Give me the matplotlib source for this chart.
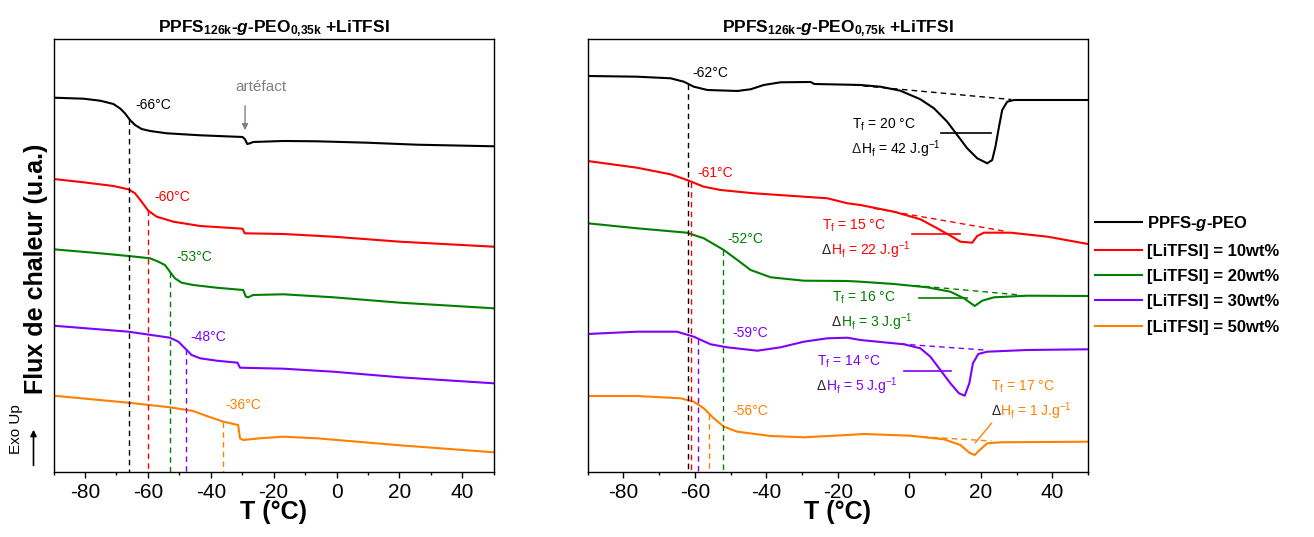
import numpy as np
import matplotlib
matplotlib.use("Agg")
from matplotlib import pyplot as plt
from matplotlib.ticker import MultipleLocator

plt.rcParams['font.family'] = ['Liberation Sans', 'DejaVu Sans']
plt.rcParams['mathtext.fontset'] = 'custom'
plt.rcParams['mathtext.rm'] = 'Liberation Sans'
plt.rcParams['mathtext.it'] = 'Liberation Sans:italic'
plt.rcParams['mathtext.bf'] = 'Liberation Sans:bold'
plt.rcParams['mathtext.bfit'] = 'Liberation Sans:italic:bold'
plt.rcParams['axes.unicode_minus'] = False

# ---- data (T in °C, heat flow in arbitrary units) ----
colors = ['black', '#ff0000', '#008000', '#8000ff', '#ff8000']
labels = [r'PPFS-$\mathbfit{g}$-PEO', '[LiTFSI] = 10wt%', '[LiTFSI] = 20wt%',
          '[LiTFSI] = 30wt%', '[LiTFSI] = 50wt%']

# left panel: PPFS126k-g-PEO0,35k
l_T_0 = [-90, -80.5, -75.2, -71, -68.9, -67.3, -65.7, -64.1, -62, -59.3, -54, -43.4, -29.9, -29.1, -28.4, -27.5, -26.5, -16.9, -6.3, 9.6, 25.5, 50]
l_y_0 = [372.3, 371.3, 369.3, 366, 361.7, 356.7, 350, 345, 341, 339, 336.7, 334.7, 333, 330.7, 326, 326.7, 328, 329, 328.7, 327.3, 325.3, 323.7]
l_T_10 = [-90, -80.5, -71, -66.2, -64.1, -62, -59.9, -57.2, -51.9, -43.4, -29.9, -29.2, -16.9, -1, 20.2, 50]
l_y_10 = [291, 287.7, 284, 280.7, 276.7, 268.3, 259.3, 253.3, 248.3, 244, 241.3, 236.7, 236, 233.3, 228.3, 223.3]
l_T_20 = [-90, -75.2, -66.2, -59.3, -56.7, -54.6, -53, -51.4, -49.3, -45.6, -38.2, -29.7, -28.8, -28.1, -26.5, -16.9, -1, 20.2, 50]
l_y_20 = [220.7, 216.7, 214, 211.7, 208.3, 205, 198.3, 191.7, 187.3, 185, 182.3, 180, 173.3, 172.7, 175, 175.7, 172.7, 167.3, 161.7]
l_T_30 = [-90, -66.2, -53, -50.3, -48.2, -46.1, -43.4, -38.1, -31.5, -30.7, -16.9, -1, 20.2, 50]
l_y_30 = [144.3, 138.3, 132.3, 128.3, 121.7, 115, 111.7, 109.3, 107.3, 102.3, 101.3, 98.3, 92.7, 86.7]
l_T_50 = [-90, -66.2, -53, -45.6, -41.3, -36, -31.3, -30.7, -29.7, -24.4, -16.9, -6.3, 20.2, 50]
l_y_50 = [74.3, 67.3, 62.7, 59, 54, 48.3, 45, 31.7, 30, 31.7, 33.3, 31.7, 24.7, 17.7]
l_tg = [-66, -60, -53, -48, -36]

# right panel: PPFS126k-g-PEO0,75k
r_T_0 = [-90, -76.2, -66.8, -63.1, -60.3, -56.5, -48.1, -44.4, -40.7, -36, -27.6, -26.6, -17.3, -13.7, -8.1, -2.5, 3.1, 6.9, 10.6, 13.4, 16.2, 19.0, 21.8, 23.2, 24.1, 25.1, 26.0, 27.4, 29.3, 50]
r_y_0 = [394, 393.3, 391.7, 388.3, 383.3, 380, 379, 380.7, 385, 387.7, 388, 386, 385.3, 385, 383.3, 379.3, 370.7, 361.7, 348.3, 335, 321.7, 311.7, 306.7, 310, 323.3, 343.3, 360, 368.3, 370, 370]
r_T_10 = [-90, -76.2, -66.8, -62.2, -57.5, -52.8, -43.5, -29.5, -22.9, -17.3, -13.7, -4.3, 3.1, 7.8, 11.5, 14.3, 17.6, 19.0, 20.9, 28.4, 38.7, 50]
r_y_10 = [309, 302.3, 295.7, 290, 283.3, 280, 276.7, 273.3, 271.7, 266.7, 265, 258.3, 250.7, 241.7, 234.3, 228.3, 227.3, 234, 237.3, 237.3, 233.3, 226]
r_T_20 = [-90, -76.2, -62.2, -57.5, -51.9, -48.1, -44.4, -38.8, -29.5, -17.3, -13.7, -4.3, 5.0, 11.5, 15.3, 18.3, 20.4, 23.7, 33, 50]
r_y_20 = [246.7, 241.7, 237.3, 231.7, 220, 210, 200, 192.7, 189.3, 189, 188.3, 186, 182.7, 178.3, 171.7, 164, 169.3, 172.7, 174.3, 174]
r_T_30 = [-90, -76.2, -65, -60.3, -55.6, -51, -42.5, -36, -29.5, -22.9, -17.3, -13.7, -1.5, 3.1, 5.9, 8.7, 11.5, 13.9, 15.5, 16.8, 17.8, 19.3, 21.8, 33, 50]
r_y_30 = [136, 138.3, 138.3, 133.3, 125.7, 122.7, 119.3, 122.7, 128.3, 131.7, 132.3, 130, 125.7, 121.7, 113.3, 100, 86.7, 76.7, 74.3, 86.7, 106.7, 116, 118.3, 120, 120.7]
r_T_50 = [-90, -76.2, -64, -60.3, -57.5, -54.7, -51.9, -48.1, -38.8, -29.5, -17.3, -12.8, 0.3, 9.7, 14.3, 16.8, 18.3, 19.7, 21.8, 25.5, 50]
r_y_50 = [74, 74, 71.7, 68.3, 61.7, 51.7, 43.3, 38.3, 34, 32.7, 35, 36, 34.3, 30.7, 25, 17.3, 15, 20, 26.7, 27.7, 28.3]
r_tg = [-62, -61, -52, -59, -56]

# melting baselines (T start, y start, T end, y end)
r_base_0 = [-15.6, 385, 28.5, 370.5]
r_base_10 = [-10, 261.7, 27.5, 238.3]
r_base_20 = [1.5, 184.5, 31, 175]
r_base_30 = [-2.5, 126, 21, 120]
r_base_50 = [1, 33.8, 23, 29]
# horizontal Tf markers (T from, T to, y)
r_tf_0 = [9.0, 22.8, 337.3]
r_tf_10 = [0.7, 14.2, 236.2]
r_tf_20 = [2.8, 16.2, 172]
r_tf_30 = [-1.4, 11.8, 98.6]
r_tf_vals = [20, 15, 16, 14, 17]
r_dh_vals = [42, 22, 3, 5, 1]

left_curves = [(l_T_0, l_y_0), (l_T_10, l_y_10), (l_T_20, l_y_20), (l_T_30, l_y_30), (l_T_50, l_y_50)]
right_curves = [(r_T_0, r_y_0), (r_T_10, r_y_10), (r_T_20, r_y_20), (r_T_30, r_y_30), (r_T_50, r_y_50)]
right_bases = [r_base_0, r_base_10, r_base_20, r_base_30, r_base_50]
right_tfs = [r_tf_0, r_tf_10, r_tf_20, r_tf_30]

fig = plt.figure(figsize=(13.14, 5.37), dpi=100)
axL = fig.add_axes([0.0408, 0.1216, 0.3349, 0.8058])
axR = fig.add_axes([0.4472, 0.1216, 0.3808, 0.8058])
ymin, ymax = -1.7, 431
dash = (0, (4, 3))

for ax in (axL, axR):
    ax.set_xlim(-90, 50)
    ax.set_ylim(ymin, ymax)
    ax.set_yticks([])
    ax.xaxis.set_major_locator(MultipleLocator(20))
    ax.xaxis.set_minor_locator(MultipleLocator(10))
    ax.tick_params(axis='x', which='major', direction='out', length=4, width=1, labelsize=15, pad=4)
    ax.tick_params(axis='x', which='minor', direction='out', length=2.5, width=1)
    for s in ax.spines.values():
        s.set_linewidth(1.0)
    ax.set_xlabel('T (°C)', fontsize=18, fontweight='bold', labelpad=-1)

# left panel
for (T, y), c, lab in zip(left_curves, colors, labels):
    axL.plot(T, y, color=c, lw=1.5, label=lab, solid_joinstyle='round')
for (T, y), c, tg in zip(left_curves, colors, l_tg):
    axL.plot([tg, tg], [np.interp(tg, T, y), ymin], color=c, lw=1.0, ls=dash)
axL.text(-64, 365, '-66°C', color=colors[0], fontsize=10, va='center')
axL.text(-58, 273, '-60°C', color=colors[1], fontsize=10, va='center')
axL.text(-51, 213, '-53°C', color=colors[2], fontsize=10, va='center')
axL.text(-46.6, 133, '-48°C', color=colors[3], fontsize=10, va='center')
axL.text(-35.5, 65, '-36°C', color=colors[4], fontsize=10, va='center')
axL.text(-24.1, 383, 'artéfact', color='#808080', fontsize=11, ha='center', va='center')
axL.annotate('', xy=(-29.1, 337), xytext=(-29.1, 367),
             arrowprops=dict(arrowstyle='-|>', color='#808080', lw=1, mutation_scale=9))
axL.set_title(r'PPFS$_{\mathbf{126k}}$-$\mathbfit{g}$-PEO$_{\mathbf{0{,}35k}}$ +LiTFSI',
              fontsize=12.5, fontweight='bold', pad=5)

# right panel
for (T, y), c in zip(right_curves, colors):
    axR.plot(T, y, color=c, lw=1.5, solid_joinstyle='round')
for (T, y), c, tg in zip(right_curves, colors, r_tg):
    axR.plot([tg, tg], [np.interp(tg, T, y), ymin], color=c, lw=1.0, ls=dash)
for b, c in zip(right_bases, colors):
    axR.plot([b[0], b[2]], [b[1], b[3]], color=c, lw=1.0, ls=dash)
for t, c in zip(right_tfs, colors):
    axR.plot([t[0], t[1]], [t[2], t[2]], color=c, lw=1.2)
axR.plot([18.5, 23.0], [27.3, 46.7], color=colors[4], lw=1.0)

tg_pos = [(-60.8, 397), (-59.4, 297), (-50.8, 231), (-49.5, 137), (-49.5, 59)]
for (x, y), c, tg in zip(tg_pos, colors, r_tg):
    axR.text(x, y, f'{tg}°C', color=c, fontsize=10, va='center')

tf_pos = [(-16, 345), (-24.4, 244), (-21.6, 172), (-25.8, 108), (22.9, 83)]
for (x, y), c, tf, dh in zip(tf_pos, colors, r_tf_vals, r_dh_vals):
    axR.text(x, y, r'T$_\mathregular{f}$ = %d °C' % tf, color=c, fontsize=10, va='center')
    axR.text(x, y - 24, 'Δ', color='#262626', fontsize=10, va='center')
    axR.annotate(r'H$_\mathregular{f}$ = %d J.g$^\mathregular{-1}$' % dh, xy=(x, y - 24),
                 xytext=(6.6, 0), textcoords='offset points', color=c, fontsize=10, va='center')
axR.set_title(r'PPFS$_{\mathbf{126k}}$-$\mathbfit{g}$-PEO$_{\mathbf{0{,}75k}}$ +LiTFSI',
              fontsize=12.5, fontweight='bold', pad=5)

# y label, Exo Up arrow
fig.text(0.0275, 0.50, 'Flux de chaleur (u.a.)', rotation=90, fontsize=18,
         fontweight='bold', ha='center', va='center')
fig.text(0.0125, 0.20, 'Exo Up', rotation=90, fontsize=11, ha='center', va='center')
fig.add_artist(matplotlib.patches.FancyArrowPatch((0.0255, 0.128), (0.0255, 0.205),
               transform=fig.transFigure, arrowstyle='-|>', mutation_scale=9, lw=1.2, color='black'))

# legend
handles, labs = axL.get_legend_handles_labels()
fig.legend(handles, labs, loc='upper left', bbox_to_anchor=(0.8333, 0.601), frameon=False,
           prop={'weight': 'bold', 'size': 12}, handlelength=2.8, handletextpad=0.35,
           labelspacing=0.62, borderaxespad=0, borderpad=0)

fig.savefig('out.png', dpi=100)
